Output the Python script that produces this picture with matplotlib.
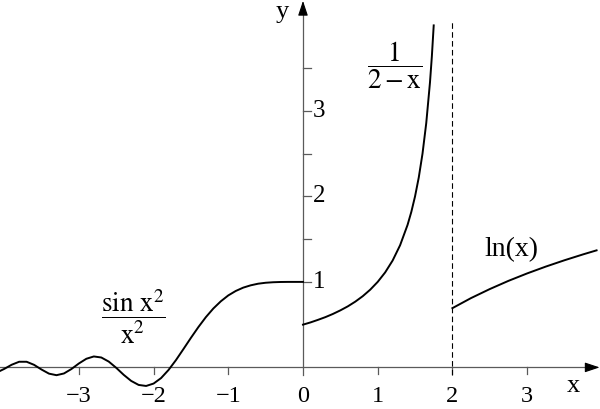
import matplotlib
matplotlib.use("Agg")
import matplotlib.pyplot as plt

plt.rcParams['font.family'] = ['Liberation Serif', 'DejaVu Serif']
plt.rcParams['mathtext.fontset'] = 'stix'

# sin(x^2)/x^2 on the left side
sinc_x = [-4.05, -4.0, -3.9, -3.8, -3.7, -3.6, -3.5, -3.4, -3.3, -3.2, -3.1,
          -3.0, -2.9, -2.8, -2.7, -2.6, -2.5, -2.4, -2.3, -2.2, -2.1,
          -2.0, -1.9, -1.8, -1.7, -1.6, -1.5, -1.4, -1.3, -1.2, -1.1,
          -1.0, -0.9, -0.8, -0.7, -0.6, -0.5, -0.4, -0.3, -0.2, -0.1, 0.0]
sinc_y = [-0.039, -0.018, 0.031, 0.066, 0.066, 0.030, -0.025, -0.073, -0.091, -0.071, -0.019,
          0.046, 0.101, 0.128, 0.116, 0.068, -0.005, -0.087, -0.158, -0.205, -0.217,
          -0.189, -0.125, -0.030, 0.086, 0.215, 0.346, 0.472, 0.588, 0.689, 0.773,
          0.842, 0.894, 0.933, 0.960, 0.979, 0.990, 0.996, 0.999, 1.0, 1.0, 1.0]

# 1/(2-x) in the middle
hyp_x = [0.0, 0.1, 0.2, 0.3, 0.4, 0.5, 0.6, 0.7, 0.8, 0.9, 1.0, 1.1, 1.2, 1.3,
         1.4, 1.45, 1.5, 1.55, 1.6, 1.65, 1.7, 1.725, 1.75]
hyp_y = [0.5, 0.526, 0.556, 0.588, 0.625, 0.667, 0.714, 0.769, 0.833, 0.909, 1.0, 1.111, 1.25, 1.429,
         1.667, 1.818, 2.0, 2.222, 2.5, 2.857, 3.333, 3.636, 4.0]

# ln(x) on the right
ln_x = [2.0, 2.25, 2.5, 2.75, 3.0, 3.25, 3.5, 3.75, 3.93]
ln_y = [0.693, 0.811, 0.916, 1.012, 1.099, 1.179, 1.253, 1.322, 1.369]

xticks = [-3, -2, -1, 0, 1, 2, 3]
xtick_labels = ['\u22123', '\u22122', '\u22121', '0', '1', '2', '3']
yticks = [1, 2, 3]
yminor = [1.5, 2.5, 3.5]

fig = plt.figure(figsize=(6, 4.09), dpi=100)
ax = fig.add_axes([0, 0, 1, 1])
xmin, xmax = -4.056, 3.976
ymin, ymax = -0.4865, 4.297
ax.set_xlim(xmin, xmax)
ax.set_ylim(ymin, ymax)
ax.axis('off')

axcol = '#5a5a5a'
# axes
ax.plot([xmin, xmax - 0.1], [0, 0], color=axcol, lw=0.9)
ax.plot([0, 0], [-0.09, ymax - 0.1], color=axcol, lw=0.9)
arr = dict(arrowstyle='-|>,head_length=0.9,head_width=0.3', color='black',
           lw=0.8, shrinkA=0, shrinkB=0, mutation_scale=10)
ax.annotate('', xy=(xmax - 0.005, 0), xytext=(xmax - 0.17, 0), arrowprops=arr)
ax.annotate('', xy=(0, ymax - 0.01), xytext=(0, ymax - 0.16), arrowprops=arr)

# ticks
for t in xticks:
    if t != 0:
        ax.plot([t, t], [0, -0.082], color=axcol, lw=0.9)
for t in yticks + yminor:
    ax.plot([0, 0.107], [t, t], color=axcol, lw=0.9)

for t, lab in zip(xticks, xtick_labels):
    ax.text(t, -0.34, lab, ha='center', va='center', fontsize=17.5)
for t in yticks:
    ax.text(0.13, t, str(t), ha='left', va='center', fontsize=18)

ax.text(3.614, -0.22, 'x', ha='center', va='center', fontsize=19)
ax.text(-0.281, 4.16, 'y', ha='center', va='center', fontsize=19)

# curves
ax.plot(sinc_x, sinc_y, color='black', lw=1.4)
ax.plot(hyp_x, hyp_y, color='black', lw=1.4)
ax.plot(ln_x, ln_y, color='black', lw=1.4)
ax.plot([2, 2], [-0.09, 4.06], color='black', lw=0.8, linestyle=(0, (5, 3)))

# labels
ax.text(1.228, 3.53, r'$\dfrac{1}{2-\mathrm{x}}$', ha='center', va='center', fontsize=19.5)
ax.text(-2.276, 0.59, r'$\dfrac{\mathrm{sin\ x}^2}{\mathrm{x}^2}$', ha='center', va='center', fontsize=19.5)
ax.text(2.785, 1.373, 'ln(x)', ha='center', va='center', fontsize=20)

fig.savefig('out.png', dpi=100)
